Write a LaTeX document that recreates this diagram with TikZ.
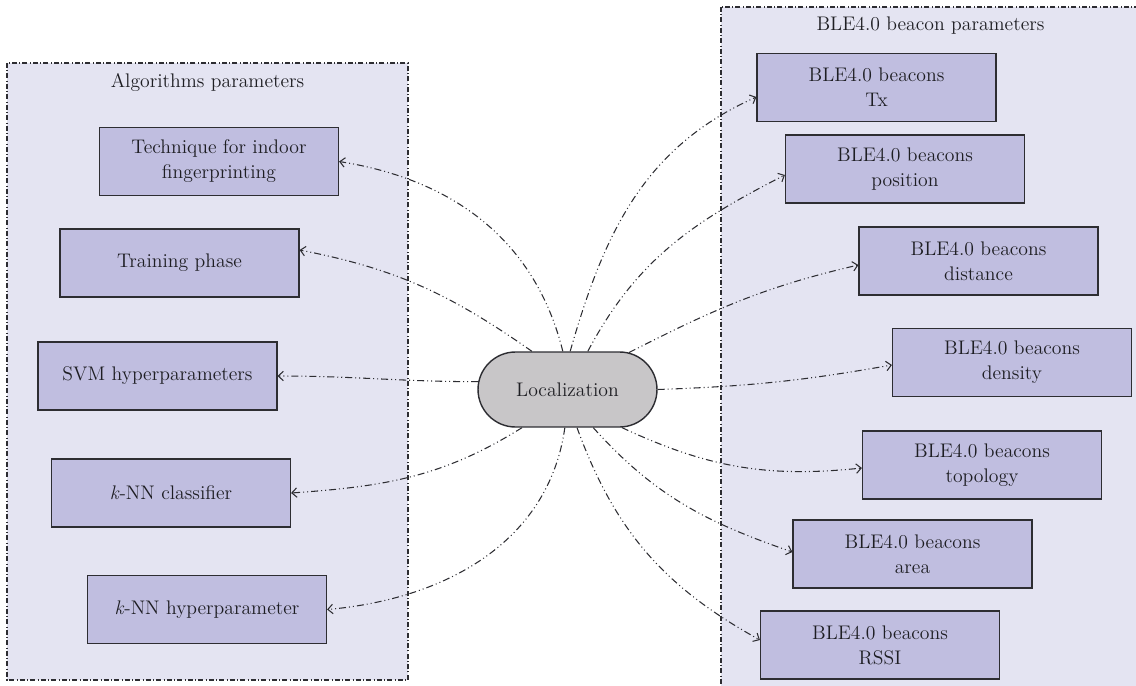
\documentclass[tikz,border=0pt]{standalone}
\usetikzlibrary{arrows.meta,shapes.misc}
\definecolor{panelbg}{RGB}{228,228,242}
\definecolor{boxfill}{RGB}{192,190,224}
\definecolor{locfill}{RGB}{200,198,200}
\definecolor{edgecol}{RGB}{45,45,50}
\definecolor{textcol}{RGB}{30,30,35}
\begin{document}
\begin{tikzpicture}[x=0.02cm,y=-0.02cm,
  font=\fontsize{11.2}{14.2}\selectfont,
  every node/.style={text=textcol},
  pbox/.style={draw=edgecol,line width=0.7pt,fill=boxfill,minimum width=4.78cm,minimum height=1.36cm,align=center,inner sep=0pt},
  panel/.style={draw=edgecol,line width=0.6pt,fill=panelbg,dash pattern=on 1mm off 0.45mm on 0.2mm off 0.45mm},
  link/.style={draw=edgecol,line width=0.6pt,dash pattern=on 1.4mm off 0.6mm on 0.2mm off 0.6mm on 0.2mm off 0.6mm,-{Straight Barb[length=1mm,width=1.9mm]}},
  title/.style={text=textcol}
]
\useasboundingbox (0,0) rectangle (1136,686);
\clip (0,0) rectangle (1136,686);
\path[panel] (7,63) rectangle (408,680);
\path[panel] (721,7) rectangle (1145,695);

\node[title] (tleft) at (207.5,82) {Algorithms parameters};
\node[title] (tright) at (930.5,26) {BLE4.0 beacon parameters};

\node[pbox] (tech) at (219,161.5) {Technique for indoor\\fingerprinting};
\node[pbox] (train) at (179.5,263) {Training phase};
\node[pbox] (svm) at (157.5,376) {SVM hyperparameters};
\node[pbox] (knnc) at (171,493) {\textit{k}-NN classifier};
\node[pbox] (knnh) at (207,609.5) {\textit{k}-NN hyperparameter};

\node[pbox] (tx) at (876.5,87.5) {BLE4.0 beacons\\Tx};
\node[pbox] (pos) at (905,169) {BLE4.0 beacons\\position};
\node[pbox] (dist) at (978.5,261) {BLE4.0 beacons\\distance};
\node[pbox] (dens) at (1012,362.5) {BLE4.0 beacons\\density};
\node[pbox] (topo) at (982,465) {BLE4.0 beacons\\topology};
\node[pbox] (area) at (912.5,554) {BLE4.0 beacons\\area};
\node[pbox] (rssi) at (880,645) {BLE4.0 beacons\\RSSI};

\node[rounded rectangle,draw=edgecol,line width=0.8pt,fill=locfill,minimum width=3.58cm,minimum height=1.5cm,inner sep=0pt] (loc) at (567.5,389.5) {Localization};

\draw[link] (loc.97) to[out=104,in=-9] (tech.east);
\draw[link] (loc.133) to[out=145,in=-11] ([yshift=2.6mm]train.east);
\draw[link] (loc.175) to[out=180,in=0] (svm.east);
\draw[link] (loc.-140) to[out=-148,in=4] (knnc.east);
\draw[link] (loc.-94) to[out=-98,in=5] (knnh.east);
\draw[link] (loc.86) to[out=74,in=-156] ([yshift=-1.9mm]tx.west);
\draw[link] (loc.62) to[out=62,in=-153] ([yshift=-1.2mm]pos.west);
\draw[link] (loc.31) to[out=27,in=-167] ([yshift=-0.8mm]dist.west);
\draw[link] (loc.east) to[out=2,in=-170] ([yshift=-0.5mm]dens.west);
\draw[link] (loc.-35) to[out=-25,in=-174] ([yshift=-0.6mm]topo.west);
\draw[link] (loc.-56) to[out=-48,in=161] ([yshift=0.4mm]area.west);
\draw[link] (loc.-76) to[out=-70,in=151] ([yshift=1mm]rssi.west);
\end{tikzpicture}
\end{document}
